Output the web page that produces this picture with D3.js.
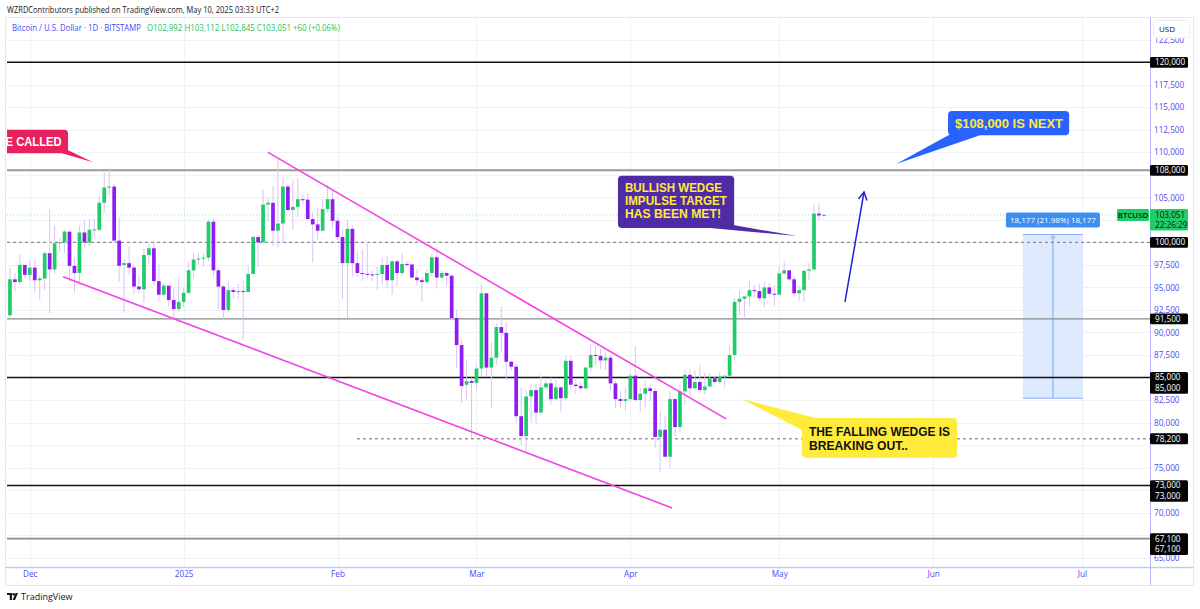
<!DOCTYPE html>
<html><head><meta charset="utf-8">
<script src="https://cdn.jsdelivr.net/npm/d3@7"></script>
<style>body{margin:0;background:#fff}svg{display:block}</style>
</head><body><svg id="c" width="1200" height="609"></svg>
<script>
// ---------------- DATA ----------------
const firstDay = "2024-11-26";
const opens = [93000,91900,95900,95600,97500,
96400,97200,95800,96000,98800,97000,99900,100000,101200,97400,96600,101100,100000,101400,101400,104400,106100,106200,100200,97500,97700,97200,95100,94800,98600,99350,95700,94200,95200,93600,92600,
93400,94400,96900,98100,98200,98300,102300,96900,95100,92500,94700,94500,94600,94500,96500,100600,100000,104200,104400,101300,102100,106200,103600,103950,104800,104750,102600,102000,101300,103700,104800,
102400,100600,97700,101500,97700,96600,96500,96450,96400,96500,97500,95800,97900,96600,97600,97550,96100,95800,95600,96600,98350,96100,96600,96300,91600,88600,84200,84600,
84400,86000,94350,86100,87200,90600,89950,86750,86200,80700,78500,82900,83600,81100,83900,84350,82600,83900,82700,86850,84200,84050,83800,86100,87500,87400,86900,87200,84350,82600,82400,
82600,85200,82500,83200,83800,83500,78400,79200,76200,82600,79500,83450,85300,83800,84500,83600,84000,84900,84500,85100,85200,87500,93400,93750,94000,94700,94600,93800,95000,94300,
94200,96550,96900,95900,94350,94700,96850,97000,103200,102992];
const highs = [94700,97200,96600,98700,97500,
98000,98100,96300,99000,103700,101900,100500,101400,101200,98300,101900,102500,102600,102600,105100,107800,108300,106500,102800,98100,99500,97400,96400,99400,99900,99900,97500,95500,95200,95000,96200,
95000,97800,98900,98800,98800,102500,102700,97200,95300,95800,95000,95400,95900,97400,100700,100900,105900,104900,106300,109300,107200,106400,106900,107100,105300,105500,103300,103800,104800,106400,105800,
102800,101500,102500,101800,99000,99200,100100,96900,97300,98300,98500,98100,98000,98800,97900,97700,97000,96000,97000,98800,99500,96900,96700,96500,92500,89300,87000,85000,
86500,95300,94400,88900,91000,92900,91200,86800,86500,83900,83600,84300,84300,85300,84700,85000,84700,84000,87400,87400,84800,84500,86200,88700,88500,88200,87800,87500,84600,83500,83900,
85500,88500,83900,84700,84200,83800,81200,80800,83500,82700,84200,85900,86000,85800,86400,85500,85500,85100,85600,85300,88500,93900,94700,94000,95700,95300,95400,95600,95500,95200,
97400,97950,96900,96300,95200,96900,97700,104200,104300,103112];
const lows = [90800,91800,94600,95300,96100,
95700,94500,93600,94700,92100,96500,99000,98800,95600,94400,95600,99300,99600,100600,101200,103300,105300,100000,95600,92200,96400,94200,94300,93400,97600,95200,93400,94000,92900,91600,92300,
92800,94200,96000,97500,97300,97900,96200,92500,91400,92200,93800,93700,89200,94300,96500,97300,99900,102300,99600,99500,100100,103300,101400,102800,104200,102500,97750,100300,101200,103300,101500,
100300,93700,91600,96200,96200,95700,95900,95700,94700,95300,94900,94200,95200,96300,97300,96000,95200,93400,95400,96300,94900,96000,95200,91300,86000,82200,82500,78300,
83700,85100,85100,81600,86400,87800,84700,85800,80000,77500,76600,80000,79900,80800,83600,82000,82400,81200,82600,83700,83200,83700,83700,85600,86300,85900,85800,83600,81600,81600,81300,
82400,82300,81200,81700,82400,77200,74500,76200,75000,78500,78900,82000,82900,83700,83600,83100,83900,84300,84300,83900,85100,87000,91900,91700,92900,93900,93500,92800,93900,92900,
94100,96400,95800,94100,93500,93400,95800,96900,102500,102845];
const closes = [91900,95900,95600,97500,96400,
97200,95800,96000,98800,97000,99900,100000,101200,97400,96600,101100,100000,101400,101450,104400,106100,106200,100200,97400,97700,97200,95100,94800,98600,99350,95700,94200,95200,93600,92600,93400,
94400,96900,98100,98200,98300,102300,96900,95100,92500,94700,94500,94600,94500,96500,100600,100000,104200,104400,101300,102100,106200,103600,103950,104800,104750,102600,102000,101300,103700,104800,102400,
100600,97700,101500,97700,96600,96500,96450,96400,96500,97500,95800,97900,96600,97600,97550,96100,95800,95600,96600,98350,96100,96600,96300,91600,88600,84050,84600,84400,
86000,94350,86100,87200,90600,89950,86750,86200,80700,78500,82900,83600,81100,83900,84350,82600,83900,82700,86850,84200,84050,83800,86100,87500,87400,86900,87200,84350,82600,82400,82600,
85200,82500,83200,83800,83500,78400,79200,76200,82600,79500,83450,85300,83800,84500,83600,84000,84900,84500,85100,85200,87500,93400,93750,94000,94700,94600,93800,95000,94300,94200,
96550,96900,95900,94350,94700,96850,97000,103200,103000,103051];

const priceTicks = [65000,67500,70000,72500,75000,77500,80000,82500,85000,87500,90000,92500,95000,97500,100000,102500,105000,107500,110000,112500,115000,117500,122500];
const monthTicks = ["2024-12-01","2025-01-01","2025-02-01","2025-03-01","2025-04-01","2025-05-01","2025-06-01","2025-07-01"];
const monthLabels = ["Dec","2025","Feb","Mar","Apr","May","Jun","Jul"];
const levelPrices = [120000,108000,100000,91500,85000,78200,73000,67100];
const levelLabels = [["120,000"],["108,000"],["100,000"],["91,500"],["85,000","85,000"],["78,200"],["73,000","73,000"],["67,100","67,100"]];
const lastPrice = 103051;
const wedgeUpper = [["2025-01-18T00:00Z",110000],["2025-04-20T07:00Z",80400]];
const wedgeLower = [["2024-12-07T17:00Z",96200],["2025-04-09T10:00Z",70500]];
const arrowPath = [["2025-05-14T06:00Z",93400],["2025-05-18T02:00Z",105600]];
const measure = {from:"2025-06-19T02:00Z", to:"2025-07-01T05:00Z", low:82700, high:100877, label:"18,177 (21.98%) 18,177"};
const callouts = [
 {x0:"2024-11-10T00:00Z",x1:"2024-12-08T17:00Z",top:112500,bottom:109900,tip:["2024-12-13T18:00Z",108900],lines:["E CALLED"]},
 {x0:"2025-03-29T12:00Z",x1:"2025-04-21T22:00Z",top:107400,bottom:101600,tip:["2025-05-04T13:00Z",100700],lines:["BULLISH WEDGE","IMPULSE TARGET","HAS BEEN MET!"]},
 {x0:"2025-06-04T00:00Z",x1:"2025-06-28T10:00Z",top:114600,bottom:111900,tip:["2025-05-24T13:00Z",108700],lines:["$108,000 IS NEXT"]},
 {x0:"2025-05-05T14:00Z",x1:"2025-06-05T20:00Z",top:80500,bottom:76100,tip:["2025-04-23T12:00Z",82600],lines:["THE FALLING WEDGE IS","BREAKING OUT.."]}
];

// ---------------- CHART ----------------
const svg = d3.select("#c");
const UI = "'Open Sans', 'DejaVu Sans', sans-serif";
const BOLD = "'Liberation Sans', Arial, sans-serif";
const PL = 7, PR = 1150, PT = 17.5, PB = 567;
const pd = d3.utcParse("%Y-%m-%d");
const pt = d3.isoParse;
const x = d3.scaleUtc().domain([pd("2024-12-01"), pd("2025-07-01")]).range([29.8, 1082]);
const y = d3.scaleLinear().domain([67100, 120000]).range([538.7, 62.3]);

svg.append("rect").attr("width",1200).attr("height",609).attr("fill","#fff");
svg.append("rect").attr("x",5.5).attr("y",17.5).attr("width",1188).attr("height",568)
  .attr("fill","none").attr("stroke","#e6e8ef");

const defs = svg.append("defs");
defs.append("clipPath").attr("id","plot").append("rect")
  .attr("x",PL).attr("y",PT).attr("width",PR-PL).attr("height",PB-PT);
defs.append("clipPath").attr("id","pax").append("rect")
  .attr("x",PR).attr("y",38.5).attr("width",45).attr("height",PB-38.5);

// grid
const grid = svg.append("g").attr("clip-path","url(#plot)");
grid.selectAll(".hg").data(priceTicks).join("line")
  .attr("x1",PL).attr("x2",PR).attr("y1",d=>Math.round(y(d))+0.5).attr("y2",d=>Math.round(y(d))+0.5)
  .attr("stroke","#eef1f7");
grid.selectAll(".vg").data(monthTicks).join("line")
  .attr("x1",d=>Math.round(x(pd(d)))+0.5).attr("x2",d=>Math.round(x(pd(d)))+0.5).attr("y1",PT).attr("y2",PB)
  .attr("stroke","#eef1f7");

const plot = svg.append("g").attr("clip-path","url(#plot)");

// measure tool
{
  const mx0 = x(pt(measure.from)), mx1 = x(pt(measure.to)), my0 = y(measure.high), my1 = y(measure.low);
  plot.append("rect").attr("x",mx0).attr("y",my0).attr("width",mx1-mx0).attr("height",my1-my0)
    .attr("fill","#dde9fc");
  [my0,my1].forEach(v=>plot.append("line").attr("x1",mx0).attr("x2",mx1).attr("y1",v).attr("y2",v)
    .attr("stroke","#8fb2f5").attr("stroke-width",1));
  const mc = (mx0+mx1)/2;
  plot.append("line").attr("x1",mc).attr("x2",mc).attr("y1",my1).attr("y2",my0+1).attr("stroke","#7fa6f2");
  plot.append("path").attr("d",`M${mc-3},${my0+4}L${mc},${my0+1}L${mc+3},${my0+4}`).attr("fill","none").attr("stroke","#7fa6f2");
  const lw = 94, lh = 15;
  svg.append("rect").attr("x",mc-lw/2).attr("y",my0-lh-7).attr("width",lw).attr("height",lh).attr("rx",2)
    .attr("fill","#3d8ff0");
  svg.append("text").attr("x",mc).attr("y",my0-7-lh/2).attr("dy","0.35em").attr("text-anchor","middle")
    .attr("font-family",UI).attr("font-size",8).attr("fill","#fff").text(measure.label);
}

// level lines
const levelStyle = {
  120000:{c:"#111",w:1.6}, 108000:{c:"#9a9a9a",w:2}, 100000:{c:"#8c8c8c",w:1.4,dash:"3,3"},
  91500:{c:"#8a8a8a",w:1.2}, 85000:{c:"#111",w:1.6}, 78200:{c:"#9a9a9a",w:1.4,dash:"3,3",start:"2025-02-04T22:00Z"},
  73000:{c:"#111",w:1.6}, 67100:{c:"#8c8c8c",w:1.8}
};
levelPrices.forEach(p=>{
  const s = levelStyle[p];
  plot.append("line").attr("x1",s.start?x(pt(s.start)):PL).attr("x2",PR)
    .attr("y1",y(p)).attr("y2",y(p)).attr("stroke",s.c).attr("stroke-width",s.w)
    .attr("stroke-dasharray",s.dash||null);
});

plot.append("line").attr("x1",PL).attr("x2",PR).attr("y1",y(lastPrice)).attr("y2",y(lastPrice))
  .attr("stroke","#9fe3bd").attr("stroke-width",1).attr("stroke-dasharray","1,2");

// candles
const start = pd(firstDay);
const candles = opens.map((o,i)=>({d:d3.utcDay.offset(start,i),o,h:highs[i],l:lows[i],c:closes[i]}));
const bw = 3.7;
const UP = "#20cc6a", DOWN = "#8f1cf0", WICK = "#dcc3f7";
plot.selectAll(".wick").data(candles).join("line")
  .attr("x1",d=>x(d.d)).attr("x2",d=>x(d.d)).attr("y1",d=>y(d.h)).attr("y2",d=>y(d.l))
  .attr("stroke",WICK).attr("stroke-width",1);
plot.selectAll(".body").data(candles).join("rect")
  .attr("x",d=>x(d.d)-bw/2).attr("width",bw)
  .attr("y",d=>y(Math.max(d.o,d.c)))
  .attr("height",d=>Math.max(1,Math.abs(y(d.o)-y(d.c))))
  .attr("fill",d=>d.c>=d.o?UP:DOWN);

// wedge lines
const lineGen = d3.line().x(d=>x(pt(d[0]))).y(d=>y(d[1]));
[wedgeUpper,wedgeLower].forEach(w=>plot.append("path").attr("d",lineGen(w))
  .attr("fill","none").attr("stroke","#f542e3").attr("stroke-width",1.6));

// blue arrow
{
  const ax0 = x(pt(arrowPath[0][0])), ay0 = y(arrowPath[0][1]), ax1 = x(pt(arrowPath[1][0])), ay1 = y(arrowPath[1][1]);
  plot.append("line").attr("x1",ax0).attr("y1",ay0).attr("x2",ax1).attr("y2",ay1)
    .attr("stroke","#2020d6").attr("stroke-width",1.5);
  const ang = Math.atan2(ay1-ay0, ax1-ax0), L = 9, sp = 0.5;
  const p1 = [ax1 - L*Math.cos(ang-sp), ay1 - L*Math.sin(ang-sp)];
  const p2 = [ax1 - L*Math.cos(ang+sp), ay1 - L*Math.sin(ang+sp)];
  plot.append("path").attr("d",`M${p1}L${ax1},${ay1}L${p2}`).attr("fill","none")
    .attr("stroke","#2020d6").attr("stroke-width",1.5);
}

// callouts
const cStyle = [
  {fill:"#e8215f", col:"#ffffff", fs:12, anchor:"end", pad:6.5, gap:13, tl:[56], tail:(b)=>[[b.x1-6,b.y1],[b.x1,b.y1-3]]},
  {fill:"#4f2ba6", col:"#ffe93b", fs:12, anchor:"start", pad:7, gap:13, first:12, tl:[97,102,96], tail:(b)=>[[b.x1-24,b.y1],[b.x1-1,b.y1-3]]},
  {fill:"#2962ff", col:"#ffe93b", fs:13, anchor:"start", pad:7, gap:14, first:12, tl:[108], tail:(b)=>[[b.x0+4,b.y1-2],[b.x0+32,b.y1]]},
  {fill:"#ffeb3b", col:"#111111", fs:12, anchor:"start", pad:7, gap:13.5, first:13.7, tl:[141,99], tail:(b)=>[[b.x0+14,b.y0],[b.x0,b.y0+12]]}
];
callouts.forEach((c,i)=>{
  const s = cStyle[i];
  const b = {x0:x(pt(c.x0)), x1:x(pt(c.x1)), y0:y(c.top), y1:y(c.bottom)};
  const tip = [x(pt(c.tip[0])), y(c.tip[1])];
  const g = plot.append("g");
  const base = s.tail(b);
  g.append("path").attr("d",`M${base[0]}L${tip}L${base[1]}Z`).attr("fill",s.fill);
  g.append("rect").attr("x",b.x0).attr("y",b.y0).attr("width",b.x1-b.x0).attr("height",b.y1-b.y0)
    .attr("rx",4).attr("fill",s.fill);
  const first = s.first || (b.y1-b.y0)/2;
  c.lines.forEach((t,j)=>{
    const tx = s.anchor==="end" ? b.x1 - s.pad : b.x0 + s.pad;
    const el = g.append("text").attr("x",tx).attr("y",b.y0+first+j*s.gap).attr("dy","0.36em")
      .attr("text-anchor",s.anchor).attr("font-family",BOLD).attr("font-weight","bold")
      .attr("font-size",s.fs).attr("fill",s.col).text(t);
    if (s.tl[j]) el.attr("textLength",s.tl[j]).attr("lengthAdjust","spacingAndGlyphs");
  });
});

// ---------- axes ----------
svg.append("line").attr("x1",PR+0.5).attr("x2",PR+0.5).attr("y1",17.5).attr("y2",585.5).attr("stroke","#b3b6fb");
svg.append("line").attr("x1",5.5).attr("x2",1193.5).attr("y1",PB+0.5).attr("y2",PB+0.5).attr("stroke","#c3c5fb").attr("stroke-width",1.6);

// label boxes (pixel extents) used to hide fully covered tick labels
const rh = 10.8;
const boxSpans = levelPrices.map((p,i)=>[y(p)-rh/2, y(p)-rh/2+rh*levelLabels[i].length]);
boxSpans.push([y(lastPrice)-6, y(lastPrice)+15.5]);
const shownTicks = priceTicks.filter(v=>!boxSpans.some(s=>y(v)>=s[0]-1 && y(v)<=s[1]+1));

const yAx = svg.append("g").attr("clip-path","url(#pax)").append("g").attr("transform",`translate(${PR+4},0)`)
  .call(d3.axisRight(y).tickValues(shownTicks).tickSize(0).tickPadding(0).tickFormat(d3.format(",")));
yAx.select(".domain").remove();
yAx.selectAll("text").attr("font-family",UI).attr("font-size",8.2).attr("fill","#4b4bf2").attr("text-anchor","start");

const xAx = svg.append("g").attr("transform",`translate(0,${PB+4})`)
  .call(d3.axisBottom(x).tickValues(monthTicks.map(pd)).tickSize(0).tickPadding(0).tickFormat((d,i)=>monthLabels[i]));
xAx.select(".domain").remove();
xAx.selectAll("text").attr("font-family",UI).attr("font-size",8.2).attr("fill","#4b4bf2");

// USD box
svg.append("rect").attr("x",1153.5).attr("y",20.5).attr("width",36).attr("height",17).attr("rx",3)
  .attr("fill","#fff").attr("stroke","#eceef3");
svg.append("text").attr("x",1159).attr("y",29).attr("dy","0.35em").attr("font-family",UI).attr("font-size",8)
  .attr("fill","#131722").text("USD");

// level label boxes
levelPrices.forEach((p,i)=>{
  const rows = levelLabels[i];
  const top = y(p) - rh/2;
  svg.append("rect").attr("x",PR).attr("y",top).attr("width",38).attr("height",rh*rows.length)
    .attr("rx",1.5).attr("fill","#050505");
  rows.forEach((t,j)=>svg.append("text").attr("x",PR+5).attr("y",top+rh/2+j*rh).attr("dy","0.35em")
    .attr("font-family",UI).attr("font-size",8.2).attr("fill","#fff").text(t));
});

// last price tag
{
  const yy = y(lastPrice);
  svg.append("rect").attr("x",1117).attr("y",yy-6).attr("width",32).attr("height",12).attr("rx",1.5).attr("fill","#22cc66");
  svg.append("text").attr("x",1133).attr("y",yy).attr("dy","0.35em").attr("text-anchor","middle")
    .attr("font-family",UI).attr("font-size",7.8).attr("font-weight",600).attr("fill","#0d1a12").text("BTCUSD");
  svg.append("rect").attr("x",PR).attr("y",yy-6).attr("width",38).attr("height",21.5).attr("rx",1.5).attr("fill","#22cc66");
  svg.append("text").attr("x",PR+5).attr("y",yy).attr("dy","0.35em")
    .attr("font-family",UI).attr("font-size",8.2).attr("fill","#0d1a12").text(d3.format(",")(lastPrice));
  svg.append("text").attr("x",PR+5).attr("y",yy+10).attr("dy","0.35em")
    .attr("font-family",UI).attr("font-size",8.2).attr("fill","#0d1a12").text("22:26:29");
}

// header texts
svg.append("text").attr("x",7).attr("y",10).attr("dy","0.35em").attr("font-family",UI).attr("font-size",8.3)
  .attr("fill","#131722").attr("textLength",272).attr("lengthAdjust","spacingAndGlyphs")
  .text("WZRDContributors published on TradingView.com, May 10, 2025 03:33 UTC+2");
svg.append("text").attr("x",12).attr("y",28.5).attr("dy","0.35em").attr("font-family",UI).attr("font-size",8.2)
  .attr("fill","#4a4af2").attr("textLength",129).attr("lengthAdjust","spacingAndGlyphs")
  .text("Bitcoin / U.S. Dollar · 1D · BITSTAMP");
svg.append("text").attr("x",147).attr("y",28.5).attr("dy","0.35em").attr("font-family",UI).attr("font-size",8.2)
  .attr("fill","#1fbf5c").attr("textLength",193).attr("lengthAdjust","spacingAndGlyphs")
  .text("O102,992  H103,112  L102,845  C103,051  +60 (+0.06%)");

// TradingView footer logo
{
  const g = svg.append("g").attr("transform","translate(7,593)");
  g.append("path").attr("d","M0,0H5V7H2.8V2H0Z").attr("fill","#131722");
  g.append("circle").attr("cx",6.6).attr("cy",1.2).attr("r",1.2).attr("fill","#131722");
  g.append("path").attr("d","M8.5,0H11L8,7H5.6Z").attr("fill","#131722");
  svg.append("text").attr("x",21).attr("y",597).attr("dy","0.35em").attr("font-family",UI).attr("font-size",9)
    .attr("fill","#131722").text("TradingView");
}
</script></body></html>
